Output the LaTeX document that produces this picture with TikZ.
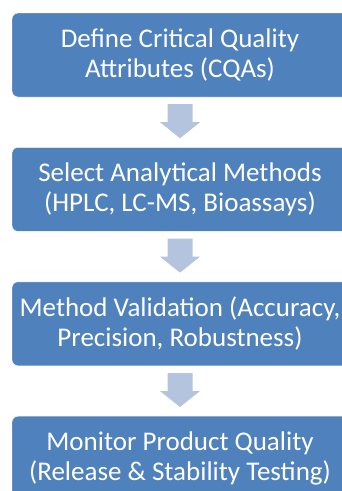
\documentclass[tikz,border=0pt]{standalone}
\usepackage{fontspec}
\setmainfont{Carlito}
\usetikzlibrary{positioning,calc}
\definecolor{stepblue}{HTML}{4F81BD}
\definecolor{flowblue}{HTML}{B4C3DE}

\begin{document}
\begin{tikzpicture}[x=1pt, y=1pt,
	stepbox/.style = {draw=white, fill=stepblue, text=white, rounded corners=6pt, align=center,
		minimum width=336pt, minimum height=84pt, inner sep=2pt, font=\fontsize{27}{30}\selectfont},
	flow/.style = {fill=flowblue, draw=none}]
				\useasboundingbox (0,0) rectangle (342,-491);
				\node[stepbox] (define) at (180,-55) {Define Critical Quality\\Attributes (CQAs)};
				\node[stepbox, below=50pt of define] (select) {Select Analytical Methods\\(HPLC, LC-MS, Bioassays)};
				\node[stepbox, below=50pt of select] (valid) {Method Validation (Accuracy,\\Precision, Robustness)};
				\node[stepbox, below=50pt of valid] (monitor) {Monitor Product Quality\\(Release \& Stability Testing)};
				% block arrows between the steps
				\foreach \a/\b in {define/select, select/valid, valid/monitor}
					\fill[flow] ($(\a.south)+(-12.5,-7)$) -- ++(25,0) -- ++(0,-18) -- ++(7.5,0)
						-- ($(\b.north)+(0,9)$) -- ($(\a.south)+(-20,-25)$) -- ++(7.5,0) -- cycle;
			\end{tikzpicture}
\end{document}
